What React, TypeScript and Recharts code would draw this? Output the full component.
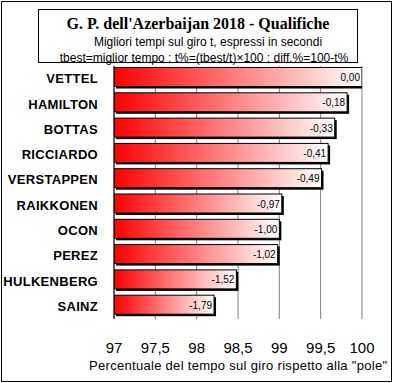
import React from 'react';
import { BarChart, Bar, XAxis, YAxis, CartesianGrid, LabelList } from 'recharts';

const DRIVERS = ['VETTEL', 'HAMILTON', 'BOTTAS', 'RICCIARDO', 'VERSTAPPEN', 'RAIKKONEN', 'OCON', 'PEREZ', 'HULKENBERG', 'SAINZ'];
// diff.% = 100 - t%
const DIFFS = [0.0, -0.18, -0.33, -0.41, -0.49, -0.97, -1.0, -1.02, -1.52, -1.79];
const X_TICKS = [97, 97.5, 98, 98.5, 99, 99.5, 100];

const data = DRIVERS.map((name, i) => ({ name, pct: 100 + DIFFS[i], diff: DIFFS[i] }));

const fmt = (v: number) => v.toFixed(2).replace('.', ',');
const fmtTick = (v: number) => String(v).replace('.', ',');

// bar with black drop shadow and red -> white gradient
const ShadowBar = (props: any) => {
    const { x, y, width, height } = props;
    if (!width || width <= 0) return null;
    const top = y - 1.5;
    return (
        <g>
            <rect x={x + 2} y={top + 2} width={width} height={height} fill="#000" />
            <rect x={x} y={top} width={width} height={height} fill="url(#redFade)" stroke="#000" strokeWidth={1} />
        </g>
    );
};

const DiffLabel = (props: any) => {
    const { x, y, width, height, value } = props;
    return (
        <text x={x + width - 2} y={y + height / 2 + 2.5} textAnchor="end" fontSize={10} fill="#000" fontFamily="'Liberation Sans', Arial, sans-serif">
            {fmt(value)}
        </text>
    );
};

export default function App() {
    return (
        <div style={{ position: 'absolute', left: 0, top: 0, width: 395, height: 383, background: '#fff', fontFamily: "'Liberation Sans', Arial, sans-serif" }}>
            <div style={{ position: 'absolute', left: 1, top: 1, width: 389, height: 379, border: '1px solid #000', overflow: 'hidden' }}>
                {/* title box */}
                <div style={{ position: 'absolute', left: 36, top: 7, width: 318, height: 52, border: '1px solid #000', textAlign: 'center', lineHeight: 1 }}>
                    <div style={{ fontFamily: "'Liberation Serif', 'Times New Roman', serif", fontWeight: 'bold', fontSize: 16, marginTop: 6 }}>
                        G. P. dell'Azerbaijan 2018 - Qualifiche
                    </div>
                    <div style={{ fontSize: 12, marginTop: 4, paddingLeft: 20 }}>Migliori tempi sul giro t, espressi in secondi</div>
                    <div style={{ fontSize: 12, marginTop: 4, paddingLeft: 12 }}>tbest=miglior tempo ; t%=(tbest/t)×100 ; diff.%=100-t%</div>
                </div>

                <div style={{ position: 'absolute', left: -1, top: -1 }}>
                    <BarChart
                        width={392}
                        height={383}
                        data={data}
                        layout="vertical"
                        margin={{ top: 65, right: 31, bottom: 0, left: 0 }}
                        barCategoryGap={3}
                    >
                        <defs>
                            <linearGradient id="redFade" x1="0" y1="0" x2="1" y2="0">
                                <stop offset="0%" stopColor="#ff0000" />
                                <stop offset="100%" stopColor="#ffffff" />
                            </linearGradient>
                        </defs>
                        <CartesianGrid horizontal={false} stroke="#808080" strokeWidth={1} />
                        <XAxis
                            type="number"
                            dataKey="pct"
                            domain={[97, 100]}
                            ticks={X_TICKS}
                            tickFormatter={fmtTick}
                            axisLine={false}
                            tickLine={false}
                            tickSize={0}
                            tickMargin={23}
                            height={65}
                            tick={{ fill: '#000', fontSize: 15 }}
                            allowDataOverflow
                        />
                        <YAxis
                            type="category"
                            dataKey="name"
                            width={113}
                            axisLine={{ stroke: '#000' }}
                            tickLine={false}
                            tickSize={0}
                            tickMargin={16}
                            tick={{ fill: '#000', fontSize: 13, fontWeight: 'bold', letterSpacing: 0.3 }}
                            interval={0}
                        />
                        <Bar dataKey="pct" shape={ShadowBar} isAnimationActive={false}>
                            <LabelList dataKey="diff" content={DiffLabel} />
                        </Bar>
                    </BarChart>
                </div>

                <div style={{ position: 'absolute', left: 87, top: 356, fontSize: 13, letterSpacing: 0.3, whiteSpace: 'nowrap' }}>
                    Percentuale del tempo sul giro rispetto alla "pole"
                </div>
            </div>
        </div>
    );
}
